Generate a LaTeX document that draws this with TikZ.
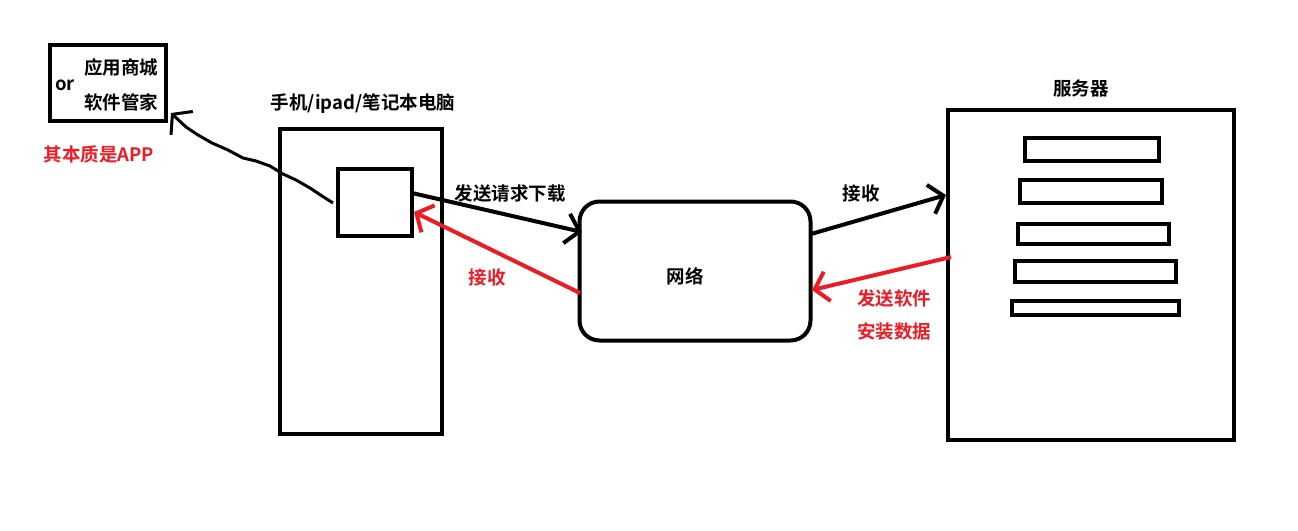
\documentclass[tikz,border=0pt]{standalone}
\usepackage{fontspec}
\setmainfont{Noto Sans CJK SC}[BoldFont={Noto Sans CJK SC Bold}]
\usetikzlibrary{arrows.meta}
\definecolor{pred}{HTML}{ED1C24}
\begin{document}
\begin{tikzpicture}[x=1pt,y=-1pt,
  box/.style={draw,line width=4pt,inner sep=0pt},
  lbl/.style={font=\fontsize{18.5}{20}\selectfont\bfseries,inner sep=0pt},
  rlbl/.style={lbl,text=pred},
  arr/.style={line width=4pt,-{Straight Barb[length=13pt,width=30pt]}},
  rarr/.style={arr,draw=pred}]
\useasboundingbox[fill=white] (0,0) rectangle (1298,530);
% app store box
\node[box,minimum width=116pt,minimum height=76pt] (store) at (108,83) {};
\node[lbl] (or) at (65,85) {or};
\node[lbl] (s1) at (121,67) {应用商城};
\node[lbl] (s2) at (121,102) {软件管家};
\node[rlbl] (app) at (99,154) {其本质是APP};
% phone
\node[box,minimum width=162pt,minimum height=305pt] (phone) at (361,281) {};
\node[lbl] (phonelbl) at (363,104) {手机/ipad/笔记本电脑};
\node[box,minimum width=74pt,minimum height=67pt] (sq) at (375,202) {};
% network
\node[draw,line width=4pt,rounded corners=20pt,minimum width=231pt,minimum height=139pt] (net) at (695,271) {};
\node[lbl] (netlbl) at (685,276) {网络};
% server
\node[box,minimum width=286pt,minimum height=330pt] (srv) at (1091,275) {};
\node[lbl] (srvlbl) at (1081,88) {服务器};
\node[box,minimum width=134pt,minimum height=23pt] (r1) at (1092,149) {};
\node[box,minimum width=142pt,minimum height=23pt] (r2) at (1091,191) {};
\node[box,minimum width=151pt,minimum height=20pt] (r3) at (1093,234) {};
\node[box,minimum width=161pt,minimum height=21pt] (r4) at (1095,271) {};
\node[box,minimum width=167pt,minimum height=14pt] (r5) at (1095,308) {};
% coordinates
\coordinate (sqw) at (333,203);
\coordinate (storetip) at (171,113);
\coordinate (sqe) at (412,193);
\coordinate (netin) at (582,232);
\coordinate (netoutr) at (580,293);
\coordinate (sqin) at (414,212);
\coordinate (neto) at (811,234);
\coordinate (srvin) at (946,195);
\coordinate (srvout) at (951,257);
\coordinate (netin2) at (812,290);
% hand-drawn wavy arrow
\draw[line width=3pt,-{Straight Barb[length=13pt,width=32pt]}] (sqw) -- (322,196) -- (310,188) -- (296,180) -- (283,174) -- (270,166) -- (256,161) -- (243,158) -- (228,150) -- (212,143) -- (198,135) -- (186,127) -- (storetip);
% arrows
\draw[arr] (sqe) -- (netin);
\node[lbl] (l1) at (510,193) {发送请求下载};
\draw[rarr] (netoutr) -- (sqin);
\node[rlbl] (l2) at (487,277) {接收};
\draw[arr] (neto) -- (srvin);
\node[lbl] (l3) at (861,193) {接收};
\draw[rarr] (srvout) -- (netin2);
\node[rlbl] (l4) at (894,298) {发送软件};
\node[rlbl] (l5) at (894,332) {安装数据};
\end{tikzpicture}
\end{document}
